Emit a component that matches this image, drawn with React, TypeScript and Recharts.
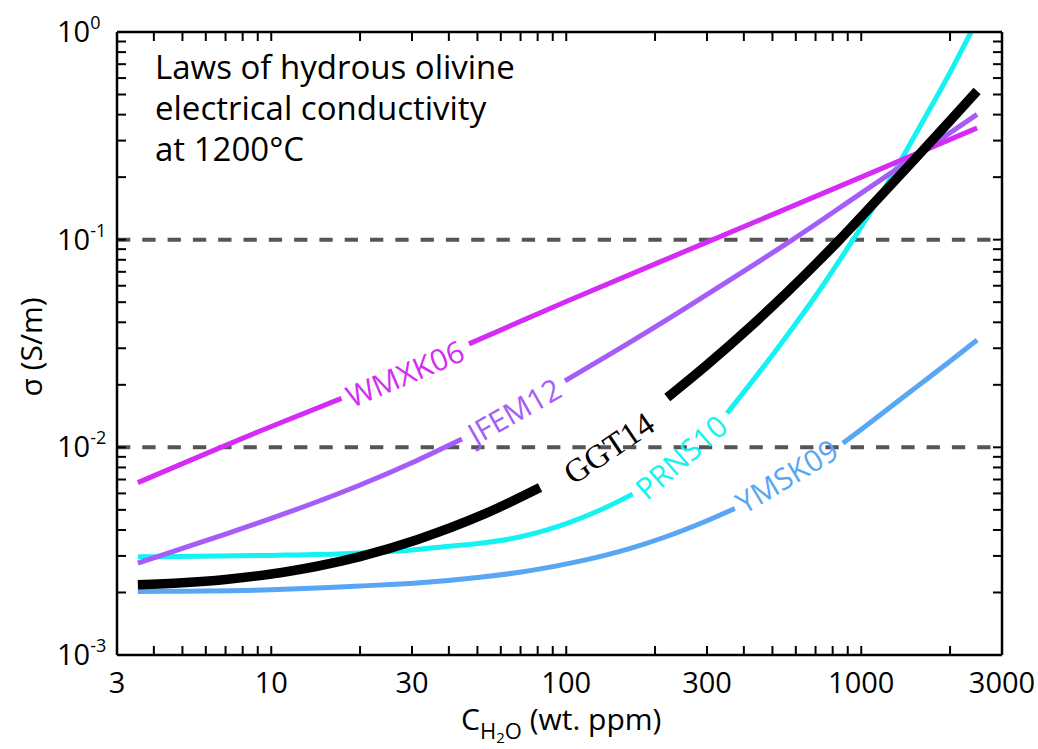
import React from 'react';
import { LineChart, Line, XAxis, YAxis, ReferenceLine, ReferenceDot, Customized } from 'recharts';

const FONT = "'Open Sans', 'DejaVu Sans', sans-serif";
const SERIF = "'Liberation Serif', 'DejaVu Serif', serif";

// Axis ticks
const xTicks = [3, 4, 5, 6, 7, 8, 9, 10, 20, 30, 40, 50, 60, 70, 80, 90, 100, 200, 300, 400, 500, 600, 700, 800, 900, 1000, 2000, 3000];
const xTickLabels = [3, 10, 30, 100, 300, 1000, 3000];
const yTicks = [
  0.001, 0.002, 0.003, 0.004, 0.005, 0.006, 0.007, 0.008, 0.009,
  0.01, 0.02, 0.03, 0.04, 0.05, 0.06, 0.07, 0.08, 0.09,
  0.1, 0.2, 0.3, 0.4, 0.5, 0.6, 0.7, 0.8, 0.9, 1,
];
const yMajor = [0.001, 0.01, 0.1, 1];
const yMajorLabels = ['-3', '-2', '-1', '0'];
const dashedLevels = [0.1, 0.01];

// WMXK06
const wmxkX = [3.53, 10, 17.3, 30, 46.8, 100, 300, 1000, 2470];
const wmxkY = [0.00676, 0.0126, 0.0172, null, 0.0315, 0.0504, 0.0973, 0.2, 0.345];
// JFEM12
const jfemX = [3.53, 5, 7, 10, 14.3, 20, 31.2, 44.3, 66, 99, 150, 249, 400, 582, 1000, 1600, 2470];
const jfemY = [0.00277, 0.00326, 0.00382, 0.00455, 0.00547, 0.00659, 0.00865, 0.01096, null, 0.0209, 0.0296, 0.046, 0.0705, 0.0995, 0.1675, 0.2636, 0.401];
// GGT14
const ggtX = [3.53, 5, 7, 10, 14.3, 20, 31.2, 52.6, 81.5, 133, 220, 300, 420, 559, 708, 836, 1000, 1498, 2000, 2470];
const ggtY = [0.00218, 0.002228, 0.002312, 0.002456, 0.002676, 0.002979, 0.003591, 0.004763, 0.00641, null, 0.01738, 0.02497, 0.038, 0.0556, 0.0774, 0.0984, 0.1288, 0.2389, 0.374, 0.52];
// PRNS10
const prnsX = [3.53, 10, 18.5, 30, 40.3, 51, 70, 86, 100, 127, 168, 240, 351, 543, 734, 938, 1000, 1185, 1426, 1802, 2000, 2355, 2470];
const prnsY = [0.00297, 0.003018, 0.003084, 0.003206, 0.003342, 0.003451, 0.003711, 0.004006, 0.004293, 0.004907, 0.005953, null, 0.01459, 0.0325, 0.059, 0.1, 0.1151, 0.171, 0.2704, 0.4875, 0.638, 1.0, 1.14];
// YMSK09
const ymskX = [3.53, 5, 10, 14.3, 20, 31.2, 51, 75.4, 111.3, 164, 213, 300, 373, 550, 867, 1000, 1545, 2000, 2470];
const ymskY = [0.00202, 0.00203, 0.00206, 0.0021, 0.00215, 0.00222, 0.002366, 0.002548, 0.002831, 0.003255, 0.00367, 0.00443, 0.005074, null, 0.01047, 0.0122, 0.0196, 0.026, 0.0329];

// Curve label positions (x, y in data units) and angles
const labelNames = ['WMXK06', 'JFEM12', 'GGT14', 'PRNS10', 'YMSK09'];
const labelX = [28.4, 66.6, 139.6, 244.6, 559];
const labelY = [0.0227, 0.015, 0.0099, 0.009, 0.0073];
const labelAngle = [-23, -29.5, -34, -41, -31];

const toPoints = (xs: number[], ys: (number | null)[]) => xs.map((x, i) => ({ x, y: ys[i] }));

const series = [
  { name: 'YMSK09', color: '#58a6f4', width: 5, data: toPoints(ymskX, ymskY) },
  { name: 'PRNS10', color: '#14f2f2', width: 5, data: toPoints(prnsX, prnsY) },
  { name: 'JFEM12', color: '#a65cf6', width: 5, data: toPoints(jfemX, jfemY) },
  { name: 'WMXK06', color: '#d42cf4', width: 5, data: toPoints(wmxkX, wmxkY) },
  { name: 'GGT14', color: '#000000', width: 9.5, data: toPoints(ggtX, ggtY) },
];
const labelColors: Record<string, string> = {
  WMXK06: '#d42cf4', JFEM12: '#a65cf6', GGT14: '#000000', PRNS10: '#14f2f2', YMSK09: '#58a6f4',
};

const TICK_LEN = 9;

const BottomTick = (props: any) => {
  const { x, y, payload } = props;
  const v = payload.value;
  const show = xTickLabels.includes(v);
  return (
    <g>
      <line x1={x} x2={x} y1={y} y2={y - TICK_LEN} stroke="#000" strokeWidth={2} />
      {show && (
        <text x={x} y={y + 38} textAnchor="middle" fontSize={29} fontFamily={FONT} fill="#000">
          {v}
        </text>
      )}
    </g>
  );
};

const TopTick = (props: any) => {
  const { x, y } = props;
  return <line x1={x} x2={x} y1={y} y2={y + TICK_LEN} stroke="#000" strokeWidth={2} />;
};

const LeftTick = (props: any) => {
  const { x, y, payload } = props;
  const v = payload.value;
  const idx = yMajor.findIndex((m) => Math.abs(Math.log10(m) - Math.log10(v)) < 1e-6);
  return (
    <g>
      <line x1={x} x2={x + TICK_LEN} y1={y} y2={y} stroke="#000" strokeWidth={2} />
      {idx >= 0 && (
        <text x={57} y={y + 10} textAnchor="start" fontSize={29} fontFamily={FONT} fill="#000">
          10
          <tspan dy={-13} fontSize={18}>{yMajorLabels[idx]}</tspan>
        </text>
      )}
    </g>
  );
};

const RightTick = (props: any) => {
  const { x, y } = props;
  return <line x1={x} x2={x - TICK_LEN} y1={y} y2={y} stroke="#000" strokeWidth={2} />;
};

const makeLabelShape = (i: number) => (props: any) => {
  const { cx, cy } = props;
  const name = labelNames[i];
  const serif = name === 'GGT14';
  return (
    <text
      x={cx}
      y={cy}
      transform={`rotate(${labelAngle[i]} ${cx} ${cy})`}
      textAnchor="middle"
      dominantBaseline="central"
      fontSize={serif ? 33 : 30}
      fontFamily={serif ? SERIF : FONT}
      fill={labelColors[name]}
    >
      {name}
    </text>
  );
};

const Texts = () => (
  <g fontFamily={FONT} fill="#000">
    <text x={155} y={79} fontSize={33}>Laws of hydrous olivine</text>
    <text x={155} y={120} fontSize={33}>electrical conductivity</text>
    <text x={155} y={161} fontSize={33}>at 1200°C</text>
    <text x={42} y={347} fontSize={30} textAnchor="middle" transform="rotate(-90 42 347)">σ (S/m)</text>
    <text x={461} y={730} fontSize={30}>
      C
      <tspan fontSize={22} dy={9}>H</tspan>
      <tspan fontSize={15} dy={4}>2</tspan>
      <tspan fontSize={22} dy={-4}>O</tspan>
      <tspan fontSize={30} dy={-9}> (wt. ppm)</tspan>
    </text>
  </g>
);

export default function App() {
  return (
    <div style={{ position: 'absolute', left: 0, top: 0, background: '#fff' }}>
      <LineChart width={1038} height={749} margin={{ top: 0, right: 0, bottom: 0, left: 0 }}>
        <XAxis
          dataKey="x"
          type="number"
          scale="log"
          domain={[3, 3000]}
          allowDataOverflow
          ticks={xTicks}
          interval={0}
          height={94}
          tickSize={0}
          tickMargin={0}
          tickLine={false}
          axisLine={{ stroke: '#000', strokeWidth: 2.5 }}
          tick={BottomTick}
        />
        <XAxis
          xAxisId="top"
          orientation="top"
          dataKey="x"
          type="number"
          scale="log"
          domain={[3, 3000]}
          allowDataOverflow
          ticks={xTicks}
          interval={0}
          height={32}
          tickSize={0}
          tickMargin={0}
          tickLine={false}
          axisLine={{ stroke: '#000', strokeWidth: 2.5 }}
          tick={TopTick}
        />
        <YAxis
          type="number"
          scale="log"
          domain={[0.001, 1]}
          allowDataOverflow
          ticks={yTicks}
          interval={0}
          width={117}
          tickSize={0}
          tickMargin={0}
          tickLine={false}
          axisLine={{ stroke: '#000', strokeWidth: 2.5 }}
          tick={LeftTick}
        />
        <YAxis
          yAxisId="right"
          orientation="right"
          type="number"
          scale="log"
          domain={[0.001, 1]}
          allowDataOverflow
          ticks={yTicks}
          interval={0}
          width={36}
          tickSize={0}
          tickMargin={0}
          tickLine={false}
          axisLine={{ stroke: '#000', strokeWidth: 2.5 }}
          tick={RightTick}
        />
        {dashedLevels.map((lv) => (
          <ReferenceLine key={lv} y={lv} stroke="#555555" strokeWidth={4} strokeDasharray="13.3 12" />
        ))}
        {series.map((s) => (
          <Line
            key={s.name}
            data={s.data}
            dataKey="y"
            type="monotone"
            stroke={s.color}
            strokeWidth={s.width}
            dot={false}
            activeDot={false}
            connectNulls={false}
            isAnimationActive={false}
          />
        ))}
        {labelNames.map((n, i) => (
          <ReferenceDot key={n} x={labelX[i]} y={labelY[i]} r={0} shape={makeLabelShape(i)} />
        ))}
        <Customized component={Texts} />
      </LineChart>
    </div>
  );
}
